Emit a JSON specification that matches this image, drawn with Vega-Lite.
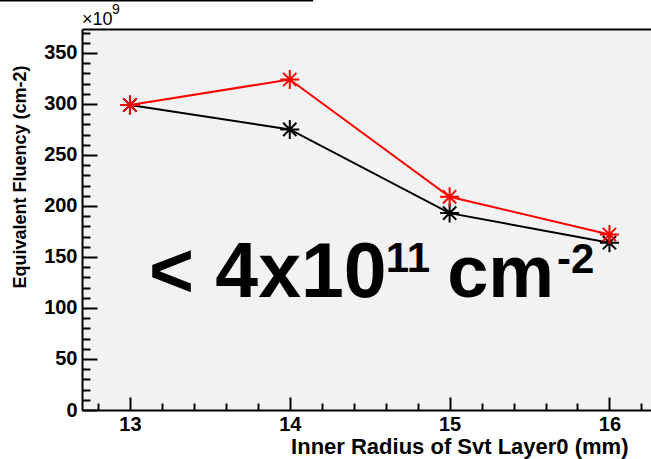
{
  "$schema": "https://vega.github.io/schema/vega-lite/v6.json",
  "autosize": "none",
  "padding": {"left": 82, "top": 29, "right": 0, "bottom": 49},
  "width": 569,
  "height": 381,
  "background": "white",
  "config": {
    "view": {"fill": "#f2f2f2", "stroke": null},
    "font": "Liberation Sans",
    "axis": {"grid": false, "domainColor": "black", "domainWidth": 2, "tickColor": "black", "tickWidth": 2, "labelColor": "black", "titleColor": "black", "labelFont": "Liberation Sans", "titleFont": "Liberation Sans"}
  },
  "resolve": {"axis": {"x": "independent", "y": "independent"}},
  "datasets": {
    "pts": [
      {"r": 13, "f": 299, "s": "black"},
      {"r": 14, "f": 275, "s": "black"},
      {"r": 15, "f": 193, "s": "black"},
      {"r": 16, "f": 164, "s": "black"},
      {"r": 13, "f": 299, "s": "red"},
      {"r": 14, "f": 324, "s": "red"},
      {"r": 15, "f": 209, "s": "red"},
      {"r": 16, "f": 172, "s": "red"}
    ],
    "one": [{}]
  },
  "layer": [
    {
      "data": {"name": "pts"},
      "transform": [{"filter": "datum.s === 'black'"}],
      "mark": {"type": "line", "color": "black", "strokeWidth": 2},
      "encoding": {
        "x": {
          "field": "r", "type": "quantitative",
          "scale": {"domain": [12.7, 16.26], "nice": false, "zero": false},
          "axis": {
            "orient": "bottom",
            "values": [13, 14, 15, 16],
            "format": "d",
            "tickSize": -13,
            "labelFontWeight": "bold", "labelFontSize": 20,
            "labelPadding": 17, "labelFlush": false,
            "title": "Inner Radius of Svt Layer0 (mm)",
            "titleFontWeight": "bold", "titleFontSize": 22,
            "titleAlign": "right", "titleBaseline": "alphabetic", "titleX": 546, "titleY": 43
          }
        },
        "y": {
          "field": "f", "type": "quantitative",
          "scale": {"domain": [0, 373.5], "nice": false},
          "axis": {
            "orient": "left",
            "values": [0, 50, 100, 150, 200, 250, 300, 350],
            "format": "d",
            "tickSize": -15,
            "labelFontWeight": "bold", "labelFontSize": 20,
            "labelPadding": 20, "labelFlush": false,
            "title": "Equivalent Fluency (cm-2)",
            "titleFontWeight": "bold", "titleFontSize": 18,
            "titleAlign": "right", "titleBaseline": "alphabetic", "titleAngle": -90, "titleX": -57, "titleY": 36
          }
        }
      }
    },
    {
      "data": {"name": "pts"},
      "transform": [{"filter": "datum.s === 'black'"}],
      "mark": {"type": "point", "shape": "M-1,0L1,0M0,-1L0,1M-0.7,-0.7L0.7,0.7M-0.7,0.7L0.7,-0.7", "filled": false, "color": "black", "strokeWidth": 2, "opacity": 1, "size": 361},
      "encoding": {
        "x": {"field": "r", "type": "quantitative", "axis": {
          "orient": "bottom",
          "values": [12.8, 13.2, 13.4, 13.6, 13.8, 14.2, 14.4, 14.6, 14.8, 15.2, 15.4, 15.6, 15.8, 16.2],
          "tickSize": -7, "labels": false, "domain": false, "title": null
        }},
        "y": {"field": "f", "type": "quantitative", "axis": {
          "orient": "left",
          "values": [10, 20, 30, 40, 60, 70, 80, 90, 110, 120, 130, 140, 160, 170, 180, 190, 210, 220, 230, 240, 260, 270, 280, 290, 310, 320, 330, 340, 360, 370],
          "tickSize": -8, "labels": false, "domain": false, "title": null
        }}
      }
    },
    {
      "data": {"name": "pts"},
      "transform": [{"filter": "datum.s === 'red'"}],
      "mark": {"type": "line", "color": "#ff0000", "strokeWidth": 2},
      "encoding": {
        "x": {"field": "r", "type": "quantitative", "axis": {"orient": "top", "ticks": false, "labels": false, "domain": true, "title": null}},
        "y": {"field": "f", "type": "quantitative", "axis": null}
      }
    },
    {
      "data": {"name": "pts"},
      "transform": [{"filter": "datum.s === 'red'"}],
      "mark": {"type": "point", "shape": "M-1,0L1,0M0,-1L0,1M-0.7,-0.7L0.7,0.7M-0.7,0.7L0.7,-0.7", "filled": false, "color": "#ff0000", "strokeWidth": 2, "opacity": 1, "size": 361},
      "encoding": {
        "x": {"field": "r", "type": "quantitative", "axis": null},
        "y": {"field": "f", "type": "quantitative", "axis": null}
      }
    },
    {
      "data": {"name": "one"},
      "mark": {"type": "rule", "color": "black", "strokeWidth": 2, "clip": false},
      "encoding": {
        "x": {"datum": 12.187, "type": "quantitative", "axis": null},
        "x2": {"datum": 14.146},
        "y": {"datum": 401.5, "type": "quantitative", "axis": null}
      }
    },
    {
      "data": {"name": "one"},
      "mark": {"type": "text", "text": "×10", "align": "left", "baseline": "alphabetic", "fontSize": 18, "font": "Liberation Sans", "color": "black"},
      "encoding": {
        "x": {"datum": 12.7, "type": "quantitative", "axis": null},
        "y": {"datum": 377.4, "type": "quantitative", "axis": null}
      }
    },
    {
      "data": {"name": "one"},
      "mark": {"type": "text", "text": "9", "align": "left", "baseline": "alphabetic", "fontSize": 14, "font": "Liberation Sans", "color": "black"},
      "encoding": {
        "x": {"datum": 12.888, "type": "quantitative", "axis": null},
        "y": {"datum": 388.2, "type": "quantitative", "axis": null}
      }
    },
    {
      "data": {"name": "one"},
      "mark": {"type": "text", "text": "< 4x10", "align": "left", "baseline": "alphabetic", "fontSize": 77, "fontWeight": "bold", "font": "Liberation Sans", "color": "black"},
      "encoding": {
        "x": {"datum": 13.119, "type": "quantitative", "axis": null},
        "y": {"datum": 110.8, "type": "quantitative", "axis": null}
      }
    },
    {
      "data": {"name": "one"},
      "mark": {"type": "text", "text": "11", "align": "left", "baseline": "alphabetic", "fontSize": 42, "fontWeight": "bold", "font": "Liberation Sans", "color": "black"},
      "encoding": {
        "x": {"datum": 14.6, "type": "quantitative", "axis": null},
        "y": {"datum": 135.3, "type": "quantitative", "axis": null}
      }
    },
    {
      "data": {"name": "one"},
      "mark": {"type": "text", "text": "cm", "align": "left", "baseline": "alphabetic", "fontSize": 74, "fontWeight": "bold", "font": "Liberation Sans", "color": "black"},
      "encoding": {
        "x": {"datum": 14.985, "type": "quantitative", "axis": null},
        "y": {"datum": 110.8, "type": "quantitative", "axis": null}
      }
    },
    {
      "data": {"name": "one"},
      "mark": {"type": "text", "text": "-2", "align": "left", "baseline": "alphabetic", "fontSize": 42, "fontWeight": "bold", "font": "Liberation Sans", "color": "black"},
      "encoding": {
        "x": {"datum": 15.672, "type": "quantitative", "axis": null},
        "y": {"datum": 134.3, "type": "quantitative", "axis": null}
      }
    }
  ]
}
